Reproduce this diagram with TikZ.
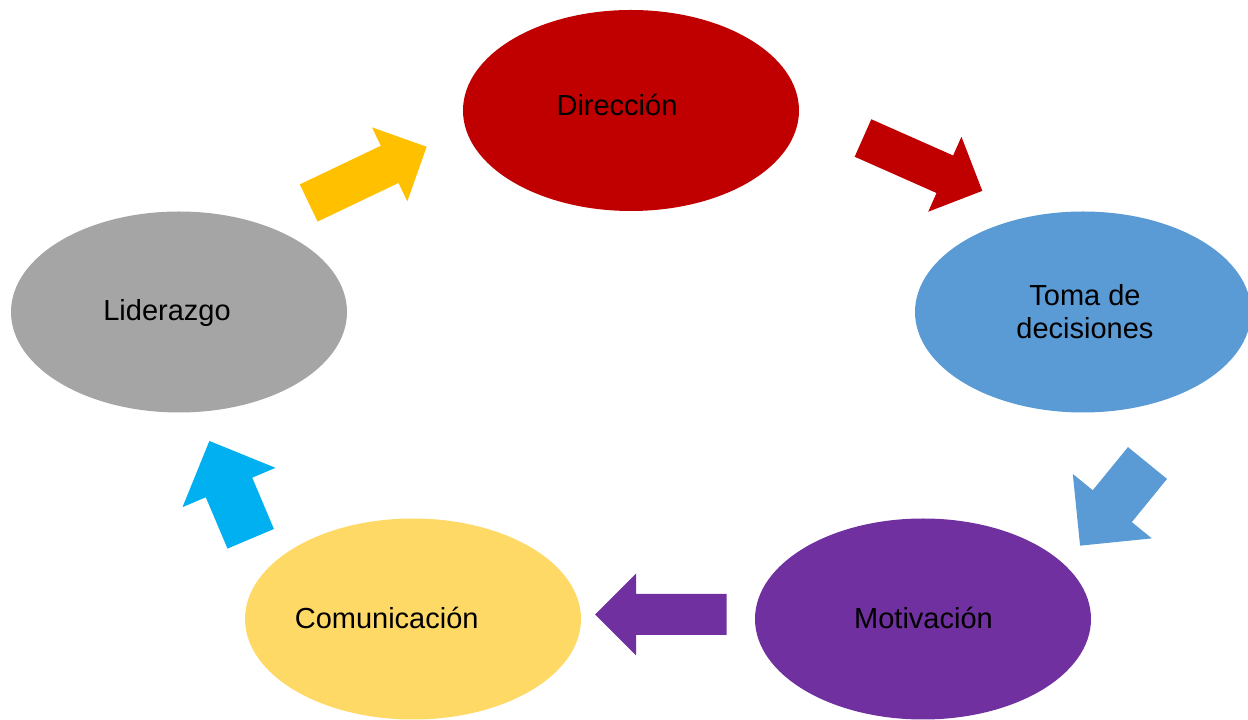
\documentclass[tikz,border=0pt]{standalone}
\usepackage{fontspec}
\setmainfont{Liberation Sans}
\usepackage{tikz}
\usetikzlibrary{positioning,arrows.meta,shapes.geometric}

\definecolor{dirred}{HTML}{C00000}
\definecolor{tomablue}{HTML}{5B9BD5}
\definecolor{motpurple}{HTML}{7030A0}
\definecolor{comyellow}{HTML}{FFD966}
\definecolor{lidgray}{HTML}{A5A5A5}
\definecolor{arrcyan}{HTML}{00B0F0}
\definecolor{arrgold}{HTML}{FFC000}

\tikzset{
  pics/blockarrow/.style n args={4}{code={
    \fill[#4] (0,-#2) -- ({#1-#3},-#2) -- ({#1-#3},-#3) -- (#1,0)
      -- ({#1-#3},#3) -- ({#1-#3},#2) -- (0,#2) -- cycle;
  }}
}

\begin{document}
\begin{tikzpicture}[x=1pt,y=1pt,
		blob/.style={ellipse,minimum width=336pt,minimum height=201pt,inner sep=0pt},
		txt/.style={font=\fontsize{29}{33}\selectfont,inner sep=0pt,text=black}]
		
		\useasboundingbox (0,0) rectangle (1248,720);
		
		\node[blob,fill=dirred] (dir) at (631,609.5) {};
		\node[blob,fill=tomablue] (toma) at (1083,408) {};
		\node[blob,fill=motpurple] (mot) at (923,101) {};
		\node[blob,fill=comyellow] (com) at (413,101) {};
		\node[blob,fill=lidgray] (lid) at (179,408) {};
		
		\node[txt,anchor=base] (dirtxt) at (617,604) {Dirección};
		\node[txt,align=center] (tomatxt) at (1085,408) {Toma de\\decisiones};
		\node[txt,anchor=base] (mottxt) at (923.5,91) {Motivación};
		\node[txt,anchor=base] (comtxt) at (386.7,91) {Comunicación};
		\node[txt,anchor=base] (lidtxt) at (167,399) {Liderazgo};
		
		\pic[rotate=-23.9] (arrA) at (863,582) {blockarrow={130.5}{20.5}{41}{dirred}};
		\pic[rotate=-129.2] (arrB) at (1147.5,257) {blockarrow={106.7}{25.2}{51}{tomablue}};
		\pic[rotate=180] (arrC) at (726.7,105.5) {blockarrow={131.7}{20.5}{41}{motpurple}};
		\pic[rotate=112.9] (arrD) at (250.7,181.2) {blockarrow={106.2}{25.2}{50.5}{arrcyan}};
		\pic[rotate=25.5] (arrE) at (308.7,517) {blockarrow={130.7}{20.6}{41}{arrgold}};
		
	\end{tikzpicture}
\end{document}
